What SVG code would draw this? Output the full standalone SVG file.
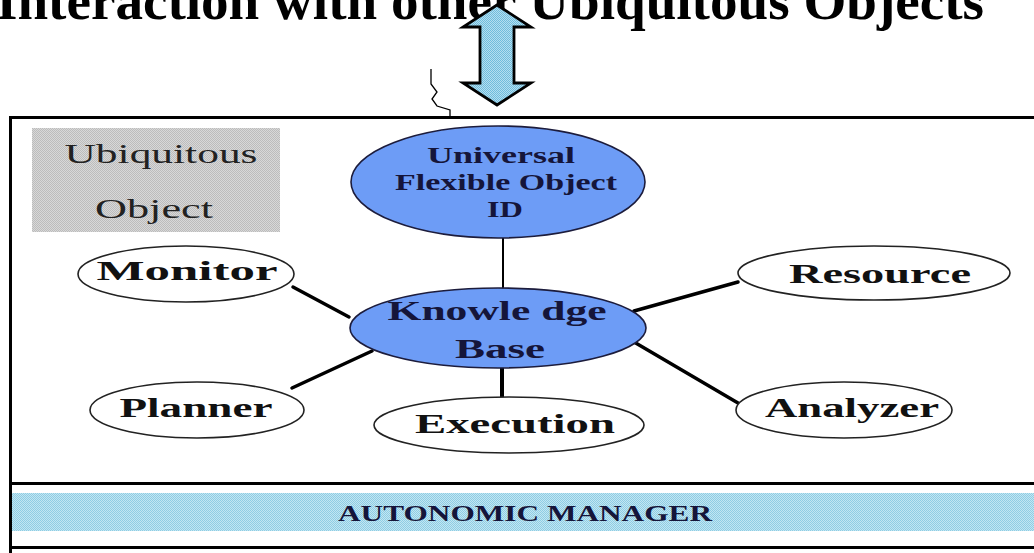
<svg xmlns="http://www.w3.org/2000/svg" width="1034" height="553" viewBox="0 0 1034 553">
  <defs>
    <pattern id="dotBlue" width="2" height="2" patternUnits="userSpaceOnUse">
      <rect width="2" height="2" fill="#c2e6f2"/>
      <rect width="1" height="1" fill="#8fcde4"/>
      <rect x="1" y="1" width="1" height="1" fill="#8fcde4"/>
    </pattern>
    <pattern id="dotArrow" width="2" height="2" patternUnits="userSpaceOnUse">
      <rect width="2" height="2" fill="#b4def0"/>
      <rect width="1" height="1" fill="#6fbcdc"/>
      <rect x="1" y="1" width="1" height="1" fill="#6fbcdc"/>
    </pattern>
    <pattern id="dotGray" width="2" height="2" patternUnits="userSpaceOnUse">
      <rect width="2" height="2" fill="#d8d8d8"/>
      <rect width="1" height="1" fill="#bcbcbc"/>
      <rect x="1" y="1" width="1" height="1" fill="#bcbcbc"/>
    </pattern>
  </defs>
  <style>
    .title { font-family: "Liberation Serif", serif; font-weight: bold; font-size: 54px; fill: #000; }
    .blue { fill: #6d9cf6; stroke: #1c1c3c; stroke-width: 1.6; }
    .white { fill: #ffffff; stroke: #222; stroke-width: 1.6; }
    .lblB { font-family: "Liberation Serif", serif; font-weight: bold; fill: #15153a; text-anchor: middle; }
    .lbl { font-family: "Liberation Serif", serif; font-weight: bold; fill: #111; text-anchor: middle; font-size: 27px; }
    .ubi { font-family: "Liberation Serif", serif; font-size: 27px; fill: #222; text-anchor: middle; }
    .frame { fill: none; stroke: #000; stroke-width: 3; }
    .conn { stroke: #000; stroke-linecap: round; }
  </style>

  <rect width="1034" height="553" fill="#ffffff"/>

  <!-- title (cut off at top, as in the reference) -->
  <text id="title" class="title" x="-4" y="19" textLength="988" lengthAdjust="spacingAndGlyphs">Interaction with other Ubiquitous Objects</text>

  <!-- double arrow -->
  <g id="double-arrow">
    <path d="M497,5 L531,27 L514,27 L514,83 L531,83 L497,105 L463,83 L480,83 L480,27 L463,27 Z" fill="url(#dotArrow)" stroke="#000" stroke-width="2.8" stroke-linejoin="miter"/>
  </g>

  <!-- squiggle -->
  <path id="squiggle" d="M431,69 L431,84 L437,92 L432,99 L437,106 L450,110 L450,117" fill="none" stroke="#000" stroke-width="1.3"/>

  <!-- outer frame -->
  <g id="frame">
    <rect class="frame" x="10.5" y="117.5" width="1040" height="460"/>
    <rect x="12" y="493" width="1022" height="38" fill="url(#dotBlue)"/>
    <line class="frame" x1="10" y1="483.5" x2="1034" y2="483.5"/>
    <line class="frame" x1="10" y1="547.5" x2="1034" y2="547.5"/>
  </g>

  <g id="autonomic-manager">
    <text class="lblB" x="525" y="521" font-size="23" textLength="374" lengthAdjust="spacingAndGlyphs" fill="#111">AUTONOMIC MANAGER</text>
  </g>

  <g id="ubiquitous-object">
    <rect x="32" y="128" width="248" height="104" fill="url(#dotGray)"/>
    <text class="ubi" x="161" y="163" textLength="193" lengthAdjust="spacingAndGlyphs">Ubiquitous</text>
    <text class="ubi" x="154" y="218" textLength="118" lengthAdjust="spacingAndGlyphs">Object</text>
  </g>

  <!-- connectors -->
  <g id="connectors">
    <line class="conn" x1="503" y1="238" x2="503" y2="288" stroke-width="2"/>
    <line class="conn" x1="502" y1="368" x2="502" y2="397" stroke-width="4"/>
    <line class="conn" x1="293" y1="287" x2="349" y2="317" stroke-width="3.5"/>
    <line class="conn" x1="634" y1="311" x2="738" y2="282" stroke-width="3.5"/>
    <line class="conn" x1="292" y1="388" x2="372" y2="351" stroke-width="3.5"/>
    <line class="conn" x1="634" y1="342" x2="738" y2="403" stroke-width="3.5"/>
  </g>

  <g id="universal-id">
    <ellipse class="blue" cx="498" cy="182" rx="147" ry="56"/>
    <text class="lblB" x="501" y="163" font-size="23" textLength="148" lengthAdjust="spacingAndGlyphs">Universal</text>
    <text class="lblB" x="506" y="190" font-size="23" textLength="222" lengthAdjust="spacingAndGlyphs">Flexible Object</text>
    <text class="lblB" x="505" y="217" font-size="23" textLength="36" lengthAdjust="spacingAndGlyphs">ID</text>
  </g>

  <g id="knowledge-base">
    <ellipse class="blue" cx="498" cy="328" rx="148" ry="40"/>
    <text class="lblB" x="497" y="320" font-size="28" textLength="219" lengthAdjust="spacingAndGlyphs">Knowle dge</text>
    <text class="lblB" x="500" y="358" font-size="28" textLength="90" lengthAdjust="spacingAndGlyphs">Base</text>
  </g>

  <g id="monitor">
    <ellipse class="white" cx="186" cy="274" rx="108" ry="28"/>
    <text class="lbl" x="187" y="280" font-size="25" textLength="181" lengthAdjust="spacingAndGlyphs">Monitor</text>
  </g>

  <g id="resource">
    <ellipse class="white" cx="874" cy="273" rx="136" ry="27"/>
    <text class="lbl" x="880" y="283" textLength="182" lengthAdjust="spacingAndGlyphs">Resource</text>
  </g>

  <g id="planner">
    <ellipse class="white" cx="197" cy="410" rx="107" ry="28"/>
    <text class="lbl" x="196" y="417" textLength="153" lengthAdjust="spacingAndGlyphs">Planner</text>
  </g>

  <g id="execution">
    <ellipse class="white" cx="509" cy="425" rx="135" ry="28"/>
    <text class="lbl" x="515" y="433" textLength="200" lengthAdjust="spacingAndGlyphs">Execution</text>
  </g>

  <g id="analyzer">
    <ellipse class="white" cx="844" cy="410" rx="108" ry="28"/>
    <text class="lbl" x="852" y="417" textLength="174" lengthAdjust="spacingAndGlyphs">Analyzer</text>
  </g>
</svg>
